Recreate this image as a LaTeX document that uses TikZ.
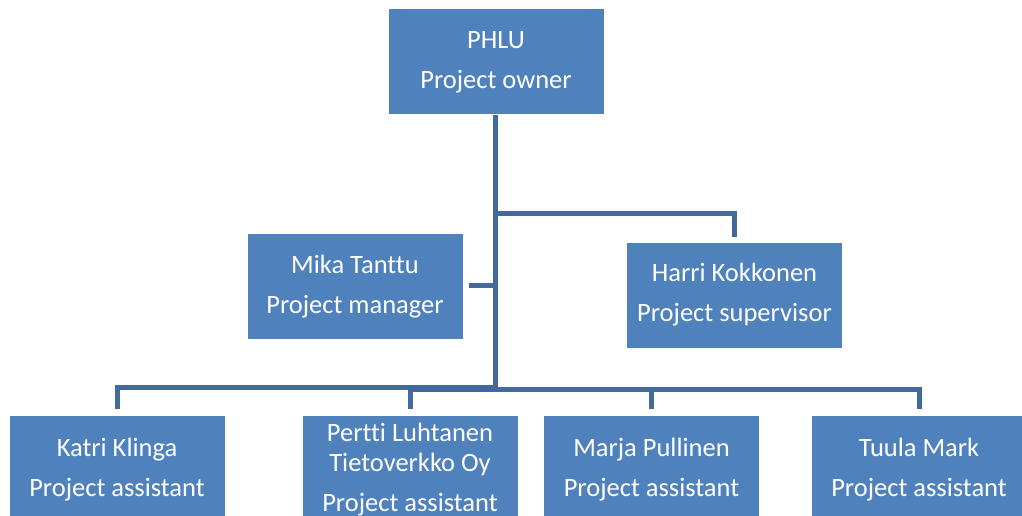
\documentclass[tikz,border=0pt]{standalone}
\usepackage{fontspec}
\setmainfont{Carlito}[RawFeature=-liga]
\definecolor{boxblue}{HTML}{4F81BD}
\definecolor{lineblue}{HTML}{41699B}
\begin{document}
\begin{tikzpicture}[x=1pt,y=-1pt,
  orgbox/.style={fill=boxblue,draw=none,text=white,align=center,inner sep=0pt,
    minimum width=215pt,minimum height=105pt,font=\fontsize{26.5}{40}\selectfont},
  conn/.style={draw=lineblue,line width=5pt,line cap=butt,line join=miter}]
\useasboundingbox (0,0) rectangle (1022,516);
\clip (0,0) rectangle (1022,516);
% boxes
\node[orgbox] (owner) at (496,62) {PHLU\\Project owner};
\node[orgbox] (mgr) at (355,286.5) {Mika Tanttu\\Project manager};
\node[orgbox] (sup) at (734.5,295) {Harri Kokkonen\\Project supervisor};
\node[orgbox,minimum height=109pt] (katri) at (117,470) {Katri Klinga\\Project assistant};
\node[orgbox,minimum height=109pt] (pertti) at (410,470) {Pertti Luhtanen\\[-10pt]Tietoverkko Oy\\Project assistant};
\node[orgbox,minimum height=109pt] (marja) at (651.5,470) {Marja Pullinen\\Project assistant};
\node[orgbox,minimum height=109pt] (tuula) at (919,470) {Tuula Mark\\Project assistant};
% junction points
\coordinate (trunkend) at (495,389);
\coordinate (supj) at (495,213);
\coordinate (mgrj) at (495,285);
% connectors
\draw[conn] (owner.south -| trunkend) -- (trunkend);
\draw[conn] (supj) -- (supj -| sup.north) -- ([yshift=5pt]sup.north);
\draw[conn] ([xshift=6pt]mgr.east |- mgrj) -- (mgrj);
\draw[conn] ([yshift=6pt]katri.north) -- ++(0,-22) coordinate (kj) -- (kj -| trunkend);
\draw[conn] ([yshift=6pt]pertti.north) -- ++(0,-20) coordinate (pj) -- (pj -| tuula.north) -- ([yshift=6pt]tuula.north);
\draw[conn] ([yshift=6pt]marja.north) -- (marja.north |- pj);
\end{tikzpicture}
\end{document}
